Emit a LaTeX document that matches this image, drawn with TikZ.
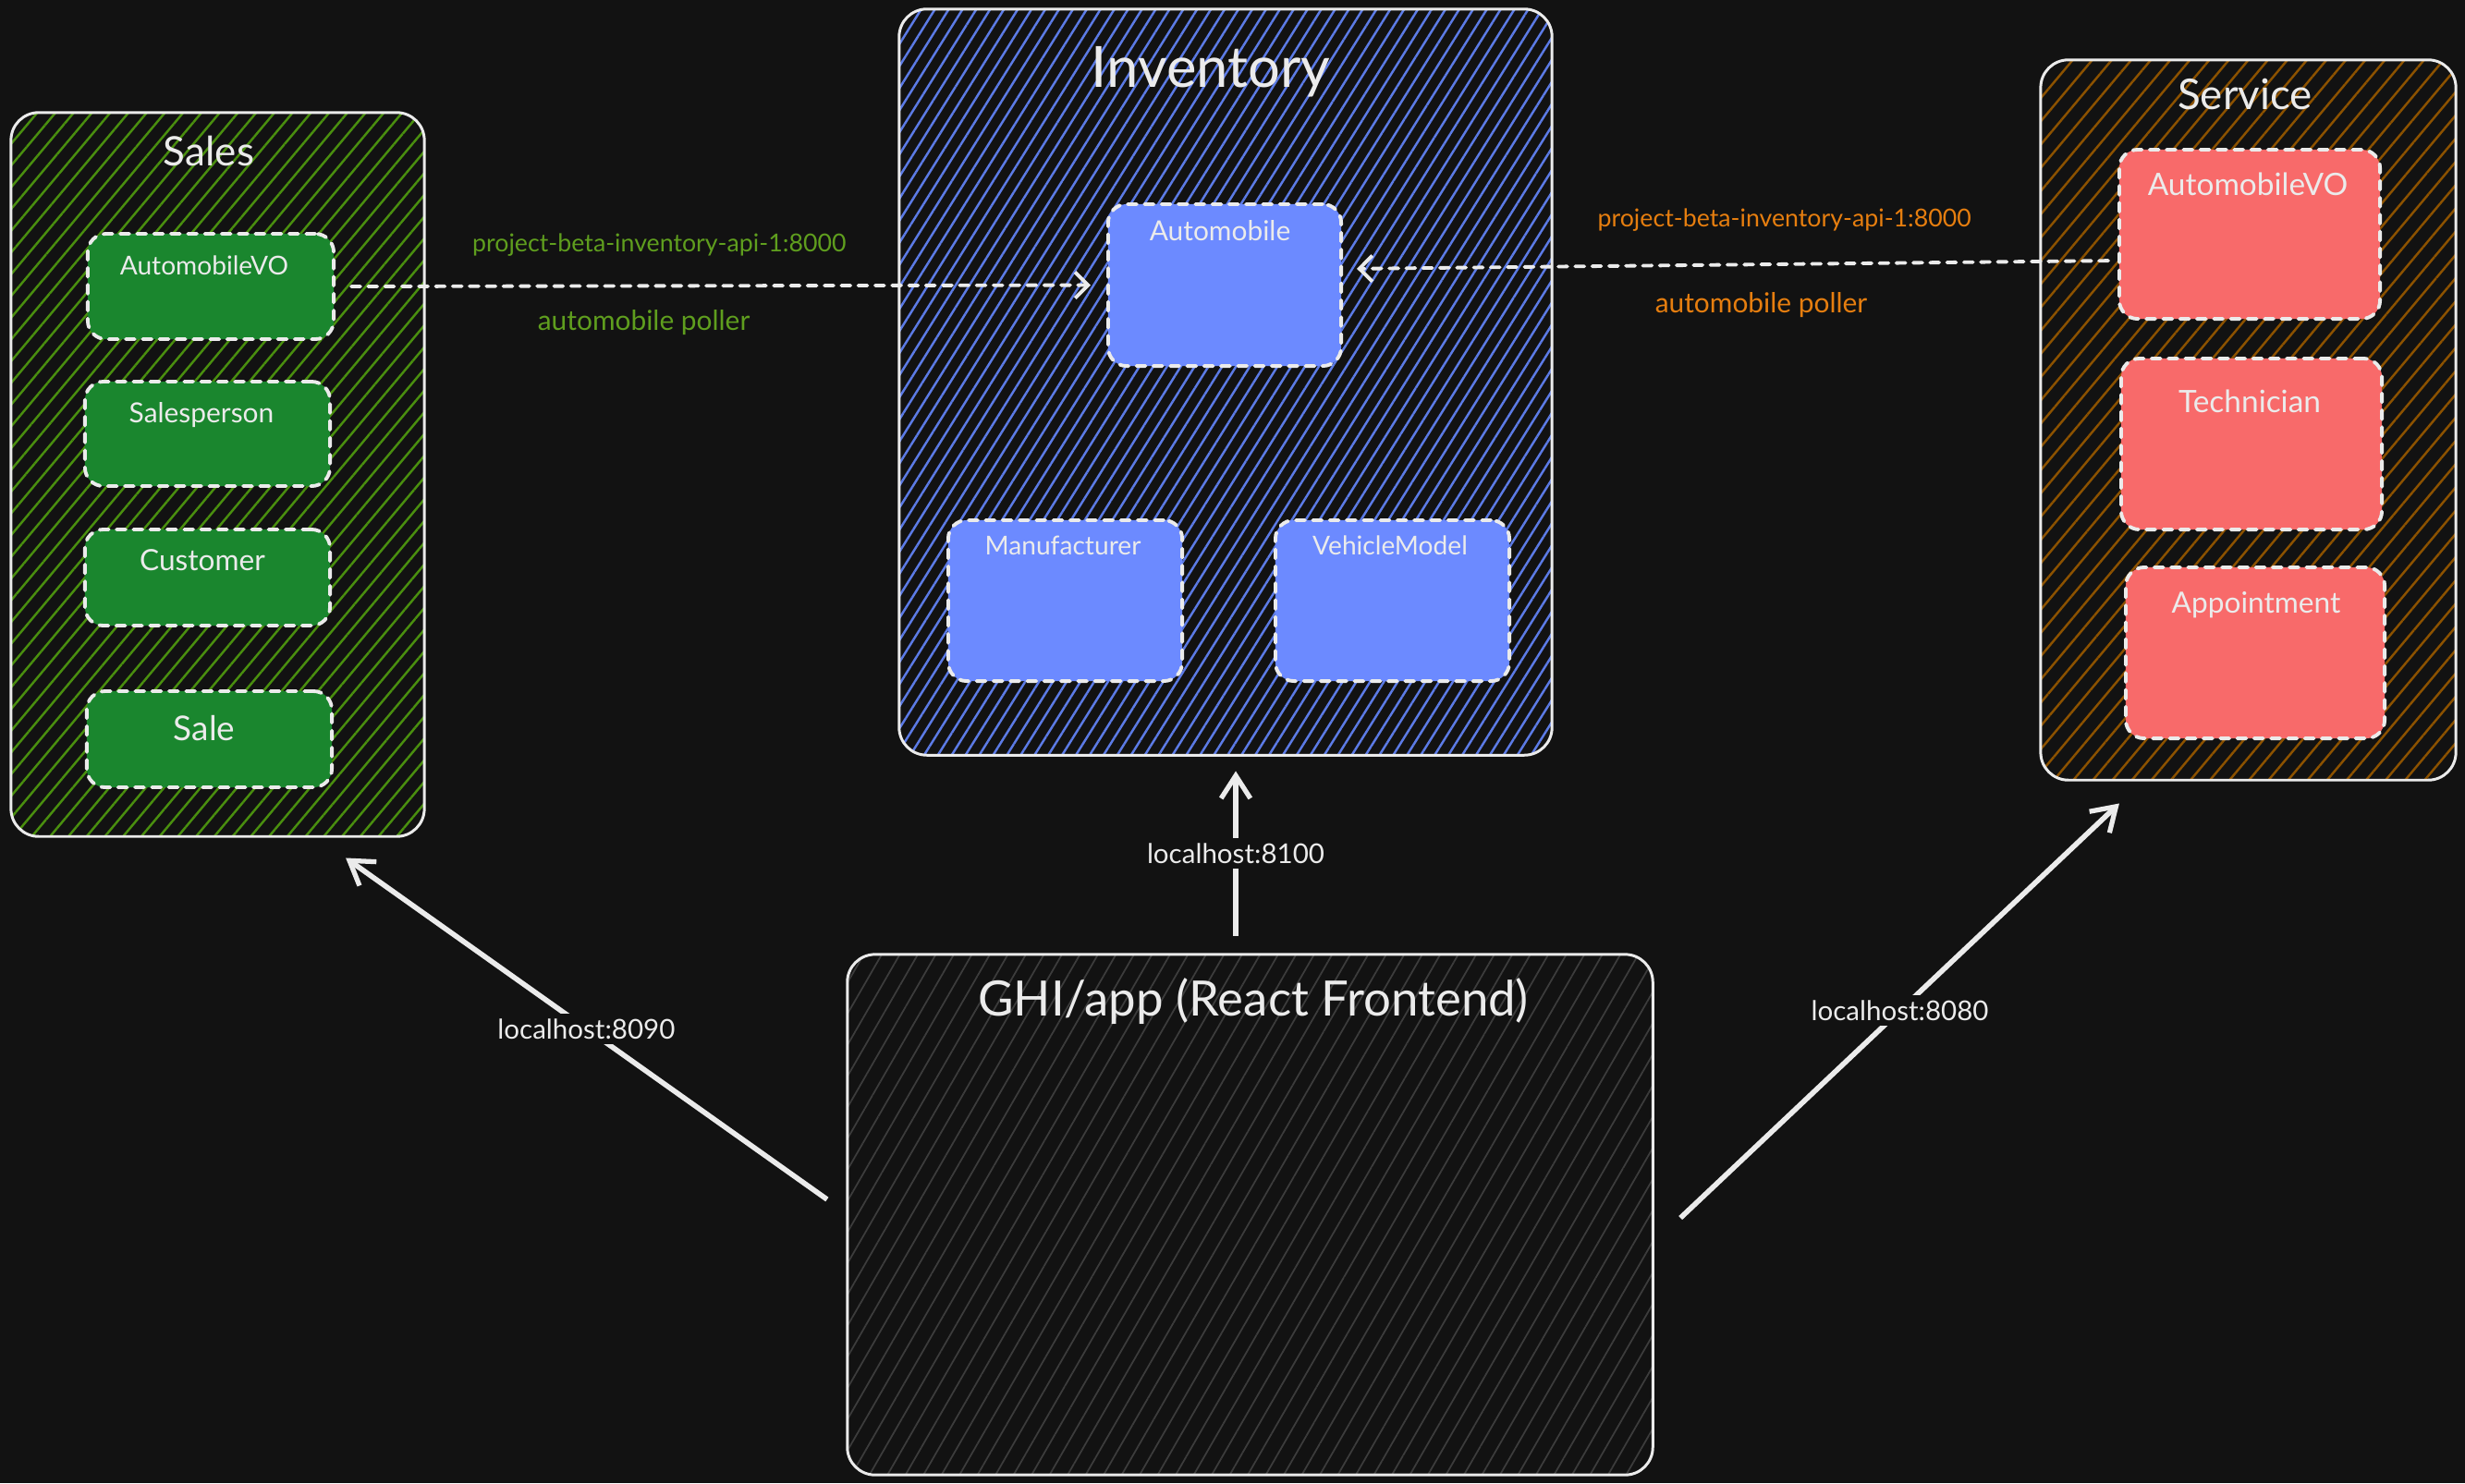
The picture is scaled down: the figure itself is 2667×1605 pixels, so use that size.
\documentclass[tikz,border=0pt]{standalone}
\usepackage{fontspec}
\setmainfont{Lato}
\usetikzlibrary{arrows.meta,patterns.meta}
\definecolor{bg}{HTML}{121212}
\definecolor{ink}{HTML}{EBEBEB}
\definecolor{salesFill}{HTML}{1A862E}
\definecolor{salesHatch}{HTML}{4A8F0F}
\definecolor{apiGreen}{HTML}{5F9E1E}
\definecolor{invFill}{HTML}{6C8AFF}
\definecolor{invHatch}{HTML}{5C7BE6}
\definecolor{servFill}{HTML}{F86A6A}
\definecolor{servHatch}{HTML}{8C5200}
\definecolor{apiOrange}{HTML}{E67E0F}
\definecolor{appHatch}{HTML}{3C3C3C}
\tikzset{
  group/.style={draw=ink, line width=0.85pt, rounded corners=0.3cm, inner sep=0pt},
  model/.style={draw=ink, line width=1.1pt, dash pattern=on 2.8pt off 2.4pt, line cap=round, rounded corners=0.2cm, inner sep=0pt},
  title/.style={text=ink, inner sep=0pt},
  link/.style={draw=ink, line width=1.6pt, -{Straight Barb[length=7pt,width=9pt,line width=1.5pt]}},
  poll/.style={draw=ink, line width=1.1pt, dash pattern=on 2.8pt off 2.4pt, line cap=round, -{Straight Barb[length=4pt,width=8pt,line width=1.1pt]}},
  port/.style={text=ink, fill=bg, inner sep=1.5pt, font=\fontsize{8.4}{10}\selectfont},
}
\begin{document}
\begin{tikzpicture}[x=0.01cm, y=-0.01cm]
\fill[bg] (0,0) rectangle (2667,1605);
\useasboundingbox (0,0) rectangle (2667,1605);

% groups
\node[group, minimum width=4.47cm, minimum height=7.83cm, pattern={Lines[angle=50,distance=4.3pt,line width=0.7pt]}, pattern color=salesHatch] (sales) at (235.5,513.5) {};
\node[group, minimum width=7.06cm, minimum height=8.07cm, pattern={Lines[angle=58,distance=3.6pt,line width=0.7pt]}, pattern color=invHatch] (inv) at (1326,413.5) {};
\node[group, minimum width=4.49cm, minimum height=7.79cm, pattern={Lines[angle=50,distance=4.6pt,line width=0.7pt]}, pattern color=servHatch] (serv) at (2432.5,454.5) {};
\node[group, minimum width=8.71cm, minimum height=5.63cm, pattern={Lines[angle=60,distance=4.8pt,line width=0.5pt]}, pattern color=appHatch] (ghi) at (1352.5,1314.5) {};

\node[title, font=\fontsize{12.5}{14}\selectfont] (salesT) at (226,163) {Sales};
\node[title, font=\fontsize{17.5}{20}\selectfont] (invT) at (1310,78) {Inventory};
\node[title, font=\fontsize{13}{15}\selectfont] (servT) at (2429,102) {Service};
\node[title, font=\fontsize{15}{18}\selectfont] (ghiT) at (1356,1084) {GHI/app (React Frontend)};

% sales models
\node[model, fill=salesFill, minimum width=2.66cm, minimum height=1.14cm] (sAuto) at (228,310) {};
\node[model, fill=salesFill, minimum width=2.65cm, minimum height=1.13cm] (sPerson) at (224.5,469.5) {};
\node[model, fill=salesFill, minimum width=2.65cm, minimum height=1.04cm] (sCust) at (224.5,625) {};
\node[model, fill=salesFill, minimum width=2.65cm, minimum height=1.04cm] (sSale) at (226.5,800) {};
\node[title, font=\fontsize{8}{10}\selectfont] (sAutoT) at (221,287) {AutomobileVO};
\node[title, font=\fontsize{8.5}{10}\selectfont] (sPersonT) at (218,449) {Salesperson};
\node[title, font=\fontsize{9}{11}\selectfont] (sCustT) at (219,606) {Customer};
\node[title, font=\fontsize{10.5}{12}\selectfont] (sSaleT) at (221,788) {Sale};

% inventory models
\node[model, fill=invFill, minimum width=2.52cm, minimum height=1.75cm] (iAuto) at (1325,308.5) {};
\node[model, fill=invFill, minimum width=2.53cm, minimum height=1.74cm] (iManu) at (1152.5,650) {};
\node[model, fill=invFill, minimum width=2.53cm, minimum height=1.74cm] (iModel) at (1506.5,650) {};
\node[title, font=\fontsize{8.5}{10}\selectfont] (iAutoT) at (1320,250) {Automobile};
\node[title, font=\fontsize{8}{10}\selectfont] (iManuT) at (1150,590) {Manufacturer};
\node[title, font=\fontsize{8}{10}\selectfont] (iModelT) at (1504,590) {VehicleModel};

% service models
\node[model, fill=servFill, minimum width=2.82cm, minimum height=1.83cm] (vAuto) at (2434,253.5) {};
\node[model, fill=servFill, minimum width=2.82cm, minimum height=1.85cm] (vTech) at (2436,480.5) {};
\node[model, fill=servFill, minimum width=2.80cm, minimum height=1.85cm] (vAppt) at (2440,706.5) {};
\node[title, font=\fontsize{9.5}{11}\selectfont] (vAutoT) at (2432,199) {AutomobileVO};
\node[title, font=\fontsize{9.5}{11}\selectfont] (vTechT) at (2434,434) {Technician};
\node[title, font=\fontsize{9}{11}\selectfont] (vApptT) at (2441,655) {Appointment};

% pollers
\draw[poll, shorten <=0.17cm, shorten >=0.17cm] (sAuto.east) -- (iAuto.west)
  node[pos=.42, above=8.5pt, inner sep=0pt, text=apiGreen, font=\fontsize{7.6}{9}\selectfont] (sApi) {project-beta-inventory-api-1:8000}
  node[pos=.40, below=6.8pt, inner sep=0pt, text=apiGreen, font=\fontsize{8.5}{10}\selectfont] (sPoll) {automobile poller};
\draw[poll, shorten <=0.1cm, shorten >=0.15cm] ([yshift=-0.285cm]vAuto.west) -- ([yshift=0.175cm]iAuto.east)
  node[pos=.43, above=9.5pt, inner sep=0pt, text=apiOrange, font=\fontsize{7.6}{9}\selectfont] (vApi) {project-beta-inventory-api-1:8000}
  node[pos=.46, below=8.2pt, inner sep=0pt, text=apiOrange, font=\fontsize{8.5}{10}\selectfont] (vPoll) {automobile poller};

% frontend calls
\draw[link] ([xshift=-0.21cm, yshift=0.165cm]ghi.west) -- ([xshift=1.385cm, yshift=-0.22cm]sales.south)
  node[port, midway] (p8090) {localhost:8090};
\draw[link] ([xshift=-0.155cm, yshift=0.19cm]ghi.north) -- ([xshift=0.11cm, yshift=-0.16cm]inv.south)
  node[port, midway] (p8100) {localhost:8100};
\draw[link] ([xshift=0.29cm, yshift=-0.035cm]ghi.east) -- ([xshift=-1.395cm, yshift=-0.24cm]serv.south)
  node[port, midway] (p8080) {localhost:8080};
\end{tikzpicture}
\end{document}
